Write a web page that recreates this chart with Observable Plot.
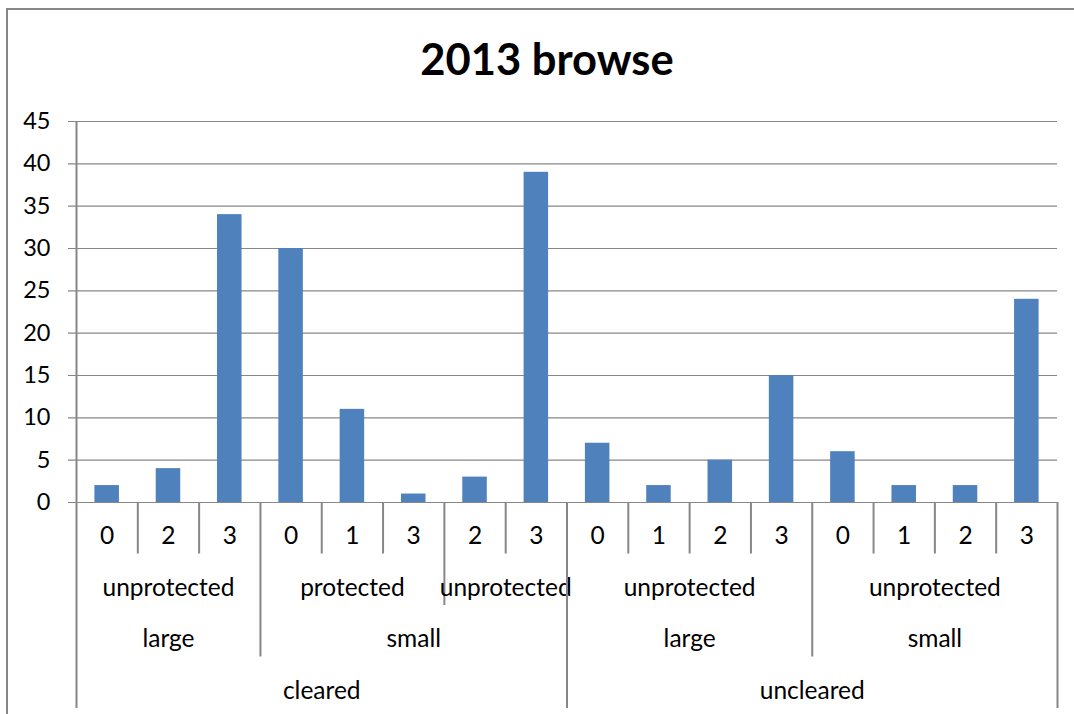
<!DOCTYPE html>
<html>
<head>
<meta charset="utf-8">
<script src="https://cdn.jsdelivr.net/npm/d3@7"></script>
<script src="https://cdn.jsdelivr.net/npm/@observablehq/plot@0.6"></script>
<style>
  html, body { margin: 0; padding: 0; background: #fff; width: 1074px; height: 714px; overflow: hidden; }
  #frame { position: absolute; left: 6px; top: 8px; width: 1090px; height: 720px; border-top: 2px solid #878787; border-left: 2px solid #878787; box-sizing: border-box; }
  #title { position: absolute; left: 7px; width: 1080px; top: 37px; text-align: center; font-family: Lato, "Open Sans", sans-serif; font-weight: bold; font-size: 43.5px; line-height: 43.5px; color: #000; }
  #chart { position: absolute; left: 0; top: 100px; }
</style>
</head>
<body>
<div id="frame"></div>
<div id="title">2013 browse</div>
<div id="chart"></div>
<script>
// ---- data ----
const clearing   = ["cleared","cleared","cleared","cleared","cleared","cleared","cleared","cleared",
                    "uncleared","uncleared","uncleared","uncleared","uncleared","uncleared","uncleared","uncleared"];
const sizes      = ["large","large","large","small","small","small","small","small",
                    "large","large","large","large","small","small","small","small"];
const protection = ["unprotected","unprotected","unprotected","protected","protected","protected","unprotected","unprotected",
                    "unprotected","unprotected","unprotected","unprotected","unprotected","unprotected","unprotected","unprotected"];
const levels     = ["0","2","3","0","1","3","2","3","0","1","2","3","0","1","2","3"];
const browse     = [2, 4, 34, 30, 11, 1, 3, 39, 7, 2, 5, 15, 6, 2, 2, 24];
const yTicks     = [0, 5, 10, 15, 20, 25, 30, 35, 40, 45];

// ---- derived tables ----
const n = browse.length;
const bars = browse.map((v, i) => ({i, v}));
// hierarchy rows: depth 1 = leaf level, 2 = protection, 3 = size, 4 = clearing
const keyAt = (i, depth) => {
  const parts = [clearing[i], sizes[i], protection[i], levels[i]];
  return parts.slice(0, 5 - depth).join("|");
};
const rowLabel = [null, levels, protection, sizes, clearing];
const groups = [];
for (let d = 1; d <= 4; d++) {
  let start = 0;
  for (let i = 1; i <= n; i++) {
    if (i === n || keyAt(i, d) !== keyAt(start, d)) {
      groups.push({depth: d, start, end: i, mid: (start + i) / 2, label: rowLabel[d][start]});
      start = i;
    }
  }
}
// separators: depth is the highest level that changes at the boundary
const seps = [];
for (let b = 0; b <= n; b++) {
  let depth = 1;
  if (b === 0 || b === n) depth = 4;
  else for (let d = 4; d >= 1; d--) { if (keyAt(b, d) !== keyAt(b - 1, d)) { depth = d; break; } }
  seps.push({x: b, depth, top: b === 0 ? yTicks[yTicks.length - 1] : 0});
}

const rowStep = 51.5, rowFirst = 34;
const lineColor = "#878787";
const font = "Lato, 'Open Sans', sans-serif";

const marks = [
  Plot.ruleY(yTicks, {stroke: lineColor, strokeWidth: 1.2, insetLeft: -8}),
  Plot.rectY(bars, {x1: d => d.i, x2: d => d.i + 1, y: "v", fill: "#4F81BD", insetLeft: 18.4, insetRight: 18.4})
];
for (let d = 1; d <= 4; d++) {
  marks.push(Plot.ruleX(seps.filter(s => s.depth === d), {
    x: "x", y1: "top", y2: () => 0, stroke: lineColor, strokeWidth: 2,
    insetBottom: -(rowStep * d)
  }));
  marks.push(Plot.text(groups.filter(g => g.depth === d), {
    x: "mid", frameAnchor: "bottom", dy: rowFirst + rowStep * (d - 1),
    text: "label", fontSize: 24.5, fill: "#000", lineAnchor: "middle"
  }));
}

const plot = Plot.plot({
  width: 1074,
  height: 614,
  marginLeft: 76,
  marginRight: 17,
  marginTop: 21,
  marginBottom: 212,
  style: {fontFamily: font, fontSize: "23.5px", color: "#000", background: "transparent", overflow: "visible"},
  x: {domain: [0, n], axis: null},
  y: {domain: [0, yTicks[yTicks.length - 1]], ticks: yTicks, tickSize: 0, tickPadding: 26, label: null},
  marks
});
document.getElementById("chart").appendChild(plot);
</script>
</body>
</html>
